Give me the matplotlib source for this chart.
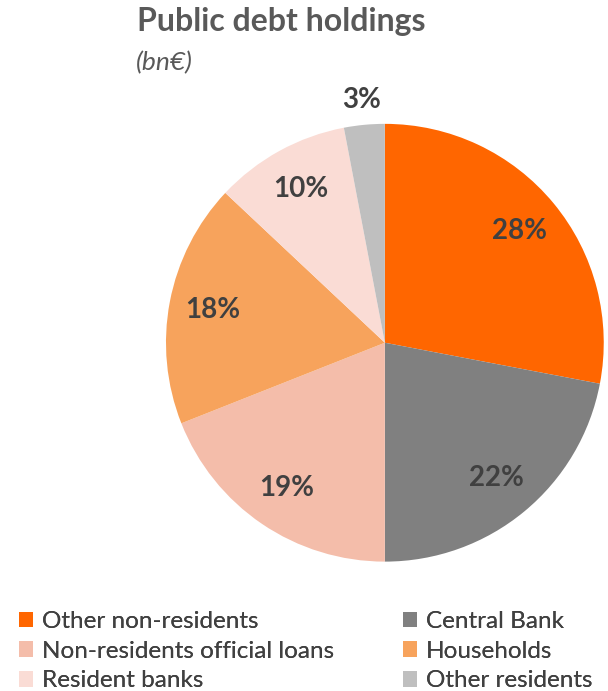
import matplotlib.pyplot as plt
from matplotlib.patches import Patch

plt.rcParams['font.family'] = ['Lato', 'DejaVu Sans']

# slices, clockwise from 12 o'clock
labels = ["Other non-residents", "Central Bank", "Non-residents official loans",
          "Households", "Resident banks", "Other residents"]
shares = [28, 22, 19, 18, 10, 3]
colors = ["#FF6600", "#808080", "#F4BDAA", "#F7A35C", "#FADCD5", "#BFBFBF"]

fig = plt.figure(figsize=(6.08, 6.91), dpi=100)
ax = fig.add_axes([0.273, 0.187, 0.72, 0.634])

wedges, texts, autotexts = ax.pie(
    shares, colors=colors, startangle=90, counterclock=False,
    autopct=lambda p: f"{p:.0f}%", pctdistance=0.8,
    wedgeprops=dict(linewidth=0),
    textprops=dict(fontsize=20, fontweight='bold', color='#404040'))
ax.set_xlim(-1, 1)
ax.set_ylim(-1, 1)
ax.set_aspect('equal')

# smallest slice label sits outside the pie
x, y = autotexts[-1].get_position()
autotexts[-1].set_position((x * 1.39, y * 1.39))

fig.text(137 / 608, 1 - 21 / 691, "Public debt holdings", fontsize=23,
         fontweight='bold', color='#595959', va='center', ha='left')
fig.text(136 / 608, 1 - 63 / 691, "(bn€)", fontsize=19, style='italic',
         color='#595959', va='center', ha='left')

handles = [Patch(facecolor=c, edgecolor='none') for c in colors]
left = [0, 2, 4]
right = [1, 3, 5]
for idx, xpos in ((left, 14), (right, 398)):
    leg = fig.legend([handles[i] for i in idx], [labels[i] for i in idx],
                     loc='upper left', bbox_to_anchor=(xpos / 608, 1 - 606 / 691),
                     frameon=False, fontsize=17.5, handlelength=0.6,
                     handleheight=0.6, handletextpad=0.35, labelspacing=0.36,
                     borderaxespad=0, borderpad=0.2)
    for t in leg.get_texts():
        t.set_color('#404040')
    fig.add_artist(leg)

fig.savefig("out.png", dpi=100)
